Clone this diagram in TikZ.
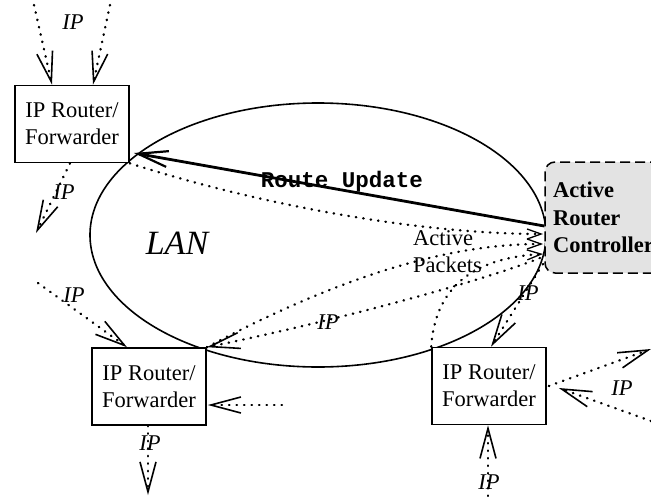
\documentclass[tikz,border=0pt]{standalone}
\usepackage{fontspec}
\setmainfont{Liberation Serif}
\setmonofont{Liberation Mono}
\usetikzlibrary{arrows.meta,shapes.geometric,calc}
\tikzset{
  router/.style={draw, line width=1.6pt, fill=white, minimum width=114pt,
    minimum height=77pt, align=center, font=\fontsize{22.5}{27}\selectfont},
  ctrlbox/.style={draw, dash pattern=on 10pt off 5pt, line width=1.5pt,
    rounded corners=10pt, fill=gray!22, minimum width=125pt, minimum height=111pt,
    text width=109pt, inner xsep=8pt, align=left,
    font=\fontsize{22.5}{27.5}\selectfont\bfseries},
  ipflow/.style={line width=2.4pt, line cap=round, dash pattern=on 0.5pt off 7pt,
    -{Straight Barb[length=30pt,width=16pt,line width=1.6pt]}},
  active/.style={line width=2.4pt, line cap=round, dash pattern=on 0.5pt off 7pt,
    -{Straight Barb[length=14pt,width=10pt,line width=1.3pt]}},
  update/.style={line width=2.8pt, -{Straight Barb[length=30pt,width=16pt,line width=2.2pt]}},
  iplabel/.style={inner sep=0pt, font=\fontsize{22.5}{27}\selectfont\itshape}
}
\begin{document}
\begin{tikzpicture}[x=1pt,y=-1pt]
  \useasboundingbox (0,0) rectangle (651,496);
  \node[ellipse, draw, line width=1.6pt, minimum width=456pt, minimum height=264pt,
    inner sep=0pt] (lan) at (318,235) {};
  \node[font=\fontsize{34}{40}\selectfont\itshape] (lantext) at (177,243) {LAN};

  \node[router] (r1) at (72,124) {IP Router/\\Forwarder};
  \node[router] (r2) at (149,386.5) {IP Router/\\Forwarder};
  \node[router] (r3) at (489,386) {IP Router/\\Forwarder};

  \coordinate (a1) at (543,234);
  \coordinate (a2) at (543,244);
  \coordinate (a3) at (543,254);
  \coordinate (s6) at (540,258);
  \coordinate (s8) at (543,264);
  \coordinate (in1a) at (34,5);
  \coordinate (in1b) at (110,5);
  \coordinate (out1) at (36,233);
  \coordinate (in2a) at (38,283);
  \coordinate (in2b) at (282,405);
  \coordinate (out2) at (148,495);
  \coordinate (out3) at (651,349);
  \coordinate (in3a) at (651,421);
  \coordinate (in3b) at (488,496);

  \draw[active] (r1.south east) .. controls (260,205) and (420,234) .. (a1);
  \draw[active] (r2.north east) .. controls (330,282) and (440,244) .. (a2);
  \draw[active] (r3.north west) .. controls (435,290) and (470,258) .. (a3);
  \node[align=left, inner sep=0pt, font=\fontsize{22.5}{27}\selectfont] (pk)
    at (447.5,251.5) {Active\\Packets};

  \draw[ipflow] (s6) .. controls (480,282) and (330,322) .. (r2.north east);
  \draw[ipflow] (s8) -- ($(r3.north)+(2,0)$);
  \draw[ipflow] (in1a) -- ($(r1.north)+(-20,0)$);
  \draw[ipflow] (in1b) -- ($(r1.north)+(21,0)$);
  \draw[ipflow] ($(r1.south)+(-2,0)$) -- (out1);
  \draw[ipflow] (in2a) -- ($(r2.north)+(-22,0)$);
  \draw[ipflow] (in2b) -- ($(r2.east)+(1,18.5)$);
  \draw[ipflow] ($(r2.south)+(-1,0)$) -- (out2);
  \draw[ipflow] ($(r3.east)+(2,0)$) -- (out3);
  \draw[ipflow] (in3a) -- ($(r3.east)+(12,2)$);
  \draw[ipflow] (in3b) -- ($(r3.south)+(-1,0)$);

  \node[iplabel] (ip1) at (73,22) {IP};
  \node[iplabel] (ip2) at (64,192) {IP};
  \node[iplabel] (ip3) at (74,295) {IP};
  \node[iplabel] (ip4) at (328,322) {IP};
  \node[iplabel] (ip5) at (150,443) {IP};
  \node[iplabel] (ip6) at (528,293) {IP};
  \node[iplabel] (ip7) at (622,388) {IP};
  \node[iplabel] (ip8) at (489,482) {IP};

  \node[ctrlbox] (ctrl) at (607.5,217.5) {Active\\Router\\Controller};
  \draw[update] ($(ctrl.west)+(0,8.5)$) -- ($(r1.east)+(4,29)$);
  \node[font=\fontsize{22.5}{27}\selectfont\ttfamily\bfseries] (upd) at (342,182)
    {Route Update};
\end{tikzpicture}
\end{document}
